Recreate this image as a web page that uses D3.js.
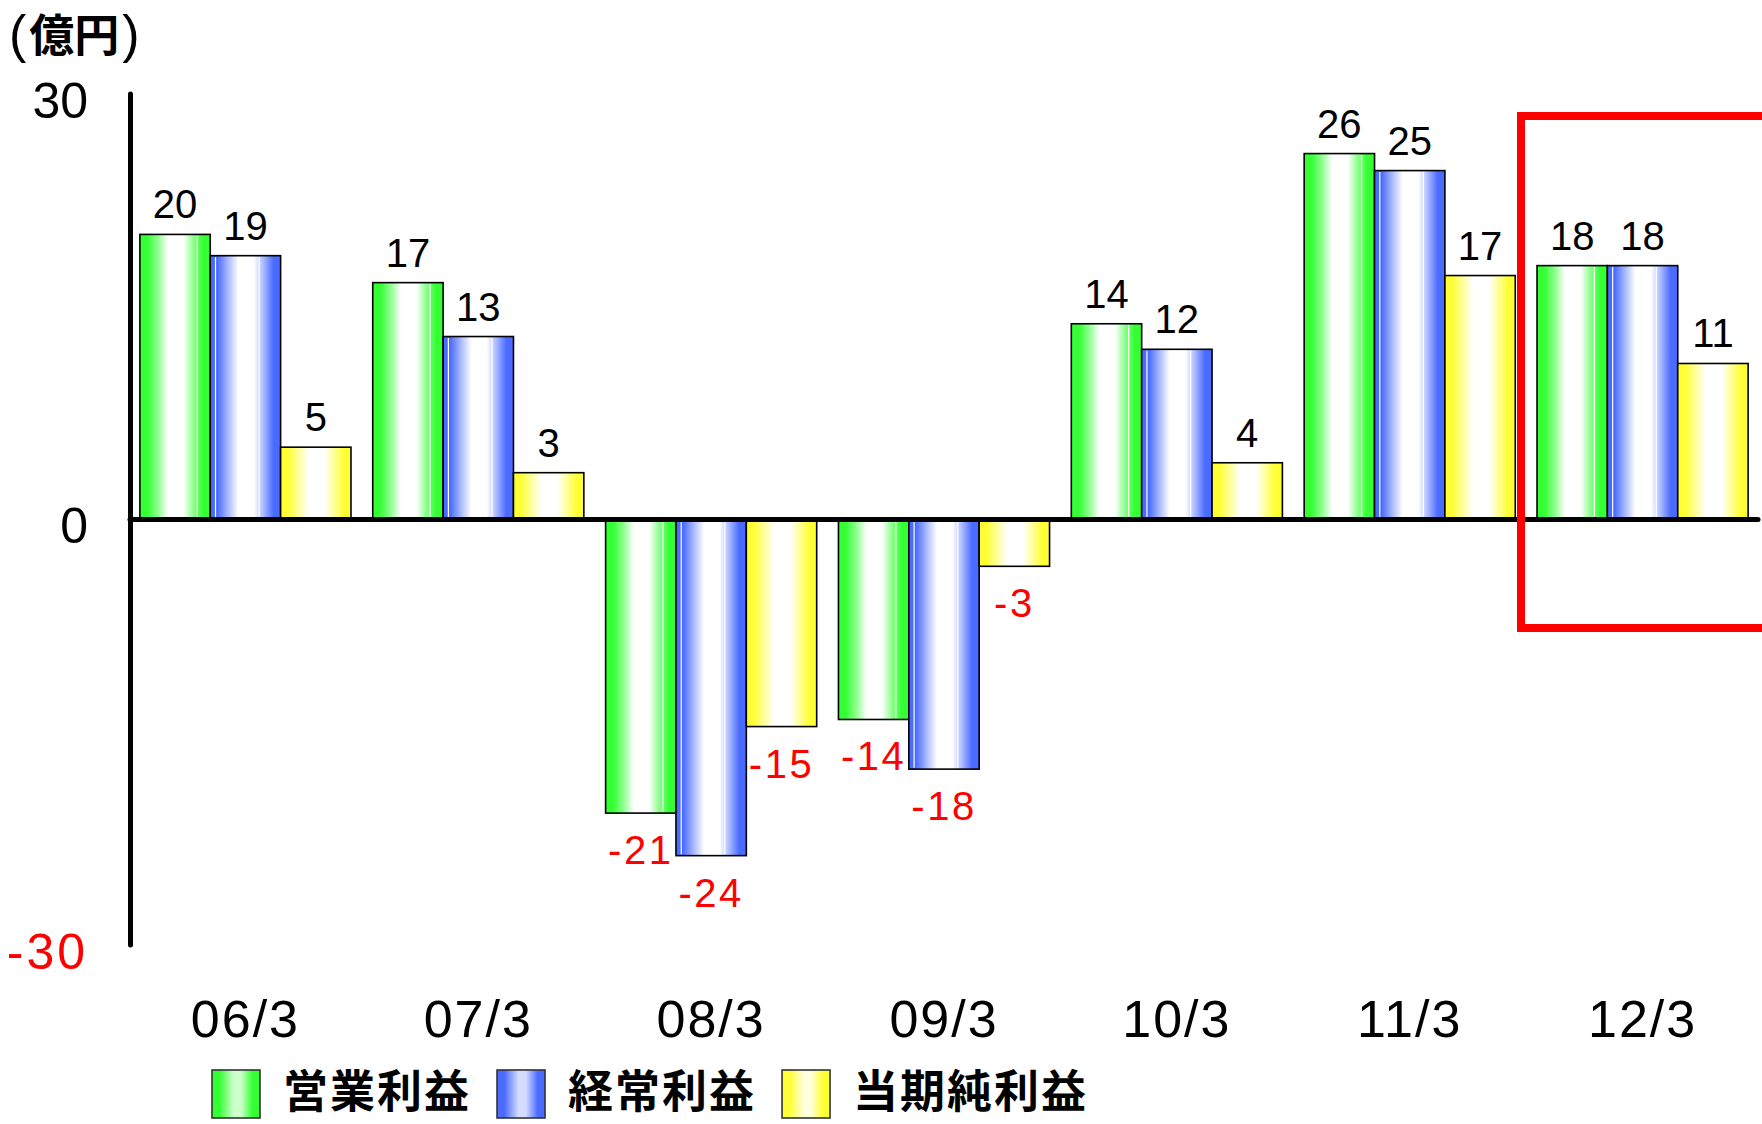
<!DOCTYPE html>
<html>
<head>
<meta charset="utf-8">
<script src="https://cdn.jsdelivr.net/npm/d3@7/dist/d3.min.js"></script>
<style>
  html, body { margin: 0; padding: 0; background: #fff; }
  svg { display: block; }
</style>
</head>
<body>
<svg id="chart" width="1762" height="1124"></svg>
<script>
// ---- data ----
const periods = ["06/3", "07/3", "08/3", "09/3", "10/3", "11/3", "12/3"];
const seriesNames = ["営業利益", "経常利益", "当期純利益"];
const operatingIncome = [20.1, 16.7, -20.7, -14.1, 13.8, 25.8, 17.9];
const ordinaryIncome  = [18.6, 12.9, -23.7, -17.6, 12.0, 24.6, 17.9];
const netIncome       = [5.1, 3.3, -14.6, -3.3, 4.0, 17.2, 11.0];
const yTicks = [-30, 0, 30];
const unitLabel = "億円";

const seriesValues = [operatingIncome, ordinaryIncome, netIncome];

// ---- styles ----
const colors = [
  { key: "g", edge: "#33ff33", light: "#8cff8c", lbox: "#ccffcc", lines: [0.815] },
  { key: "b", edge: "#4a6bff", light: "#a8b8ff", lbox: "#d4dcff", lines: [0.075, 0.695] },
  { key: "y", edge: "#ffff33", light: "#ffff99", lbox: "#ffffdd", lines: [] }
];

const svg = d3.select("#chart");
const defs = svg.append("defs");

colors.forEach(c => {
  const g = defs.append("linearGradient").attr("id", "bar-" + c.key)
    .attr("x1", "0%").attr("x2", "100%").attr("y1", "0%").attr("y2", "0%");
  const stops = [
    [0, c.edge], [0.10, c.edge], [0.25, c.light], [0.40, "#ffffff"],
    [0.62, "#ffffff"], [0.76, c.light], [0.90, c.edge], [1, c.edge]
  ];
  stops.forEach(s => g.append("stop").attr("offset", s[0]).attr("stop-color", s[1]));
  const lg = defs.append("linearGradient").attr("id", "leg-" + c.key)
    .attr("x1", "0%").attr("x2", "100%").attr("y1", "0%").attr("y2", "0%");
  [[0, c.edge], [0.15, c.edge], [0.45, c.lbox], [0.6, c.lbox], [0.85, c.edge], [1, c.edge]]
    .forEach(s => lg.append("stop").attr("offset", s[0]).attr("stop-color", s[1]));
});

// ---- scales ----
const y = d3.scaleLinear().domain([-30, 30]).range([945, 94]);
const x0 = d3.scaleBand().domain(periods).range([129, 1759])
  .paddingInner(0.0935).paddingOuter(0.04675);
const x1 = d3.scaleBand().domain(d3.range(seriesNames.length)).range([0, x0.bandwidth()]).padding(0);

const fmt = v => String(Math.round(v));

// ---- bars ----
const rows = periods.map((p, i) => ({ period: p, vals: seriesValues.map(s => s[i]) }));

const groups = svg.append("g").selectAll("g").data(rows).join("g")
  .attr("transform", d => `translate(${x0(d.period)},0)`);

groups.selectAll("rect.bar").data(d => d.vals.map((v, k) => ({ v, k }))).join("rect")
  .attr("class", "bar")
  .attr("x", d => x1(d.k))
  .attr("width", x1.bandwidth())
  .attr("y", d => y(Math.max(0, d.v)))
  .attr("height", d => Math.abs(y(d.v) - y(0)))
  .attr("fill", d => `url(#bar-${colors[d.k].key})`)
  .attr("stroke", "#000")
  .attr("stroke-width", 1.6);

// thin white lines inside bars
groups.selectAll("g.hl").data(d => d.vals.map((v, k) => ({ v, k }))).join("g")
  .attr("class", "hl")
  .each(function (d) {
    const sel = d3.select(this);
    colors[d.k].lines.forEach(f => {
      const lx = x1(d.k) + f * x1.bandwidth();
      sel.append("line")
        .attr("x1", lx).attr("x2", lx)
        .attr("y1", Math.min(y(d.v), y(0)) + 1.5)
        .attr("y2", Math.max(y(d.v), y(0)) - 1.5)
        .attr("stroke", "#ffffff").attr("stroke-width", 1.2);
    });
  });

// value labels
groups.selectAll("text.val").data(d => d.vals.map((v, k) => ({ v, k }))).join("text")
  .attr("class", "val")
  .attr("x", d => x1(d.k) + x1.bandwidth() / 2)
  .attr("y", d => d.v >= 0 ? y(d.v) - 16 : y(d.v) + 51)
  .attr("text-anchor", "middle")
  .attr("font-family", "'Liberation Sans', Arial, sans-serif")
  .attr("font-size", 40)
  .attr("letter-spacing", d => d.v < 0 ? 2.5 : 0)
  .attr("fill", d => d.v < 0 ? "#ff0000" : "#000")
  .text(d => fmt(d.v));

// ---- axes ----
// zero line
svg.append("line")
  .attr("x1", 130).attr("x2", 1758)
  .attr("y1", y(0)).attr("y2", y(0))
  .attr("stroke", "#000").attr("stroke-width", 5).attr("stroke-linecap", "round");

// y axis line
svg.append("line")
  .attr("x1", 130.5).attr("x2", 130.5)
  .attr("y1", y(30)).attr("y2", y(-30))
  .attr("stroke", "#000").attr("stroke-width", 5).attr("stroke-linecap", "round");

const yAxis = svg.append("g").attr("transform", "translate(130,0)")
  .call(d3.axisLeft(y).tickValues(yTicks).tickSize(0).tickPadding(42).tickFormat(fmt));
yAxis.select(".domain").remove();
yAxis.selectAll("text")
  .attr("font-family", "'Liberation Sans', Arial, sans-serif")
  .attr("font-size", 50)
  .attr("dy", 23)
  .attr("letter-spacing", d => d < 0 ? 3 : 0)
  .attr("fill", d => d < 0 ? "#ff0000" : "#000");

const xAxis = svg.append("g").attr("transform", "translate(0,990)")
  .call(d3.axisBottom(x0).tickSize(0).tickPadding(0));
xAxis.select(".domain").remove();
xAxis.selectAll("text")
  .attr("font-family", "'Liberation Sans', Arial, sans-serif")
  .attr("font-size", 52)
  .attr("y", 47).attr("dy", 0)
  .attr("letter-spacing", 2)
  .attr("fill", "#000");

// ---- unit title ----
const title = svg.append("text").attr("x", 9).attr("y", 52).attr("fill", "#000");
title.append("tspan").attr("font-family", "'Liberation Sans', Arial, sans-serif")
  .attr("font-size", 52).text("(");
title.append("tspan").attr("font-family", "'Noto Sans CJK JP', sans-serif")
  .attr("font-weight", "bold").attr("font-size", 45).attr("dx", 3).text(unitLabel);
title.append("tspan").attr("font-family", "'Liberation Sans', Arial, sans-serif")
  .attr("font-size", 52).attr("dx", 3).text(")");

// ---- highlight box ----
svg.append("rect")
  .attr("x", 1521).attr("y", 116)
  .attr("width", 400).attr("height", 512)
  .attr("fill", "none").attr("stroke", "#ff0000").attr("stroke-width", 8);

// ---- legend ----
const legend = svg.append("g");
let lx = 212;
seriesNames.forEach((name, k) => {
  legend.append("rect")
    .attr("x", lx).attr("y", 1070).attr("width", 48).attr("height", 48)
    .attr("fill", `url(#leg-${colors[k].key})`)
    .attr("stroke", "#333").attr("stroke-width", 1.6);
  const t = legend.append("text")
    .attr("x", lx + 71).attr("y", 1108)
    .attr("font-family", "'Noto Sans CJK JP', sans-serif")
    .attr("font-weight", "bold").attr("font-size", 45)
    .attr("letter-spacing", 2)
    .attr("fill", "#000").text(name);
  const w = t.node().getComputedTextLength();
  lx = lx + 71 + w + 26;
});
</script>
</body>
</html>
